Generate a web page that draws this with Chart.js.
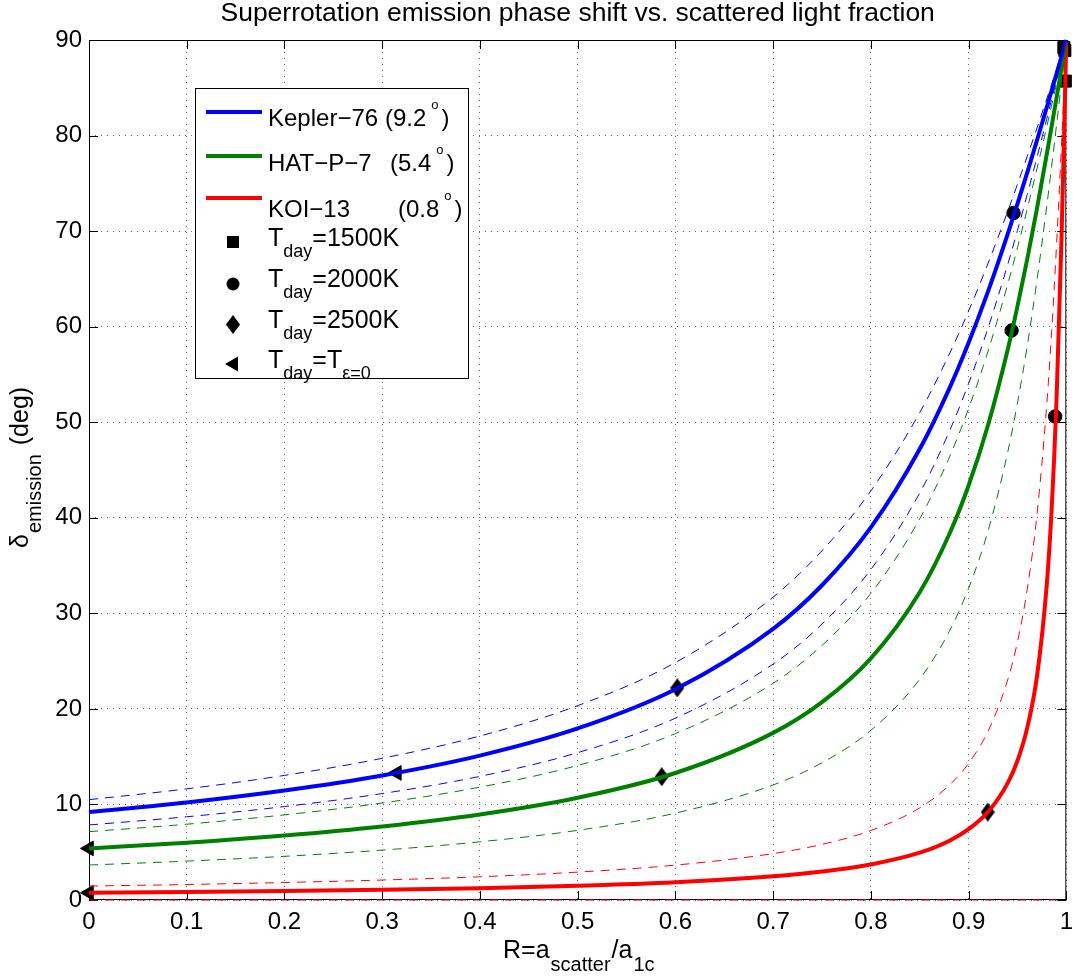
<!DOCTYPE html>
<html>
<head>
<meta charset="utf-8">
<script src="https://cdn.jsdelivr.net/npm/chart.js@4/dist/chart.umd.min.js"></script>
<style>
  html, body { margin: 0; padding: 0; background: #fff; }
  #wrap { width: 1081px; height: 979px; position: relative; }
</style>
</head>
<body>
<div id="wrap"><canvas id="chart"></canvas></div>
<script>
// R = a_scatter / a_1c
const R = [0, 0.1, 0.2, 0.3, 0.4, 0.5, 0.6, 0.7, 0.75, 0.8, 0.85, 0.88, 0.9, 0.92, 0.94, 0.95, 0.96, 0.97, 0.98, 0.985, 0.99, 0.995, 0.998, 1];

// emission phase shift (deg)
const kepler76   = [9.2, 10.2, 11.45, 13.03, 15.11, 17.95, 22.05, 28.37, 32.94, 39.0, 47.2, 53.47, 58.32, 63.72, 69.69, 72.85, 76.13, 79.51, 82.96, 84.71, 86.47, 88.23, 89.29, 90];
const kepler76Hi = [10.5, 11.63, 13.04, 14.83, 17.16, 20.34, 24.85, 31.7, 36.55, 42.82, 51.01, 57.07, 61.64, 66.65, 72.06, 74.9, 77.82, 80.8, 83.84, 85.37, 86.91, 88.45, 89.38, 90];
const kepler76Lo = [7.85, 8.71, 9.78, 11.14, 12.94, 15.42, 19.03, 24.69, 28.88, 34.59, 42.59, 48.97, 54.05, 59.89, 66.49, 70.07, 73.83, 77.73, 81.75, 83.79, 85.85, 87.92, 89.17, 90];
const hatp7      = [5.4, 5.99, 6.74, 7.69, 8.95, 10.7, 13.29, 17.49, 20.71, 25.29, 32.21, 38.22, 43.38, 49.74, 57.59, 62.12, 67.06, 72.39, 78.05, 80.98, 83.96, 86.97, 88.79, 90];
const hatp7Hi    = [7.15, 7.93, 8.91, 10.15, 11.81, 14.08, 17.41, 22.68, 26.64, 32.09, 39.9, 46.26, 51.43, 57.46, 64.43, 68.26, 72.31, 76.55, 80.94, 83.18, 85.44, 87.72, 89.09, 90];
const hatp7Lo    = [3.66, 4.07, 4.57, 5.22, 6.09, 7.29, 9.09, 12.04, 14.36, 17.75, 23.11, 28.07, 32.62, 38.66, 46.85, 52.0, 57.99, 64.88, 72.65, 76.81, 81.12, 85.53, 88.21, 90];
const koi13      = [0.75, 0.83, 0.93, 1.06, 1.24, 1.49, 1.86, 2.48, 2.98, 3.72, 4.95, 6.18, 7.41, 9.23, 12.23, 14.57, 18.01, 23.43, 33.02, 40.91, 52.43, 68.96, 81.25, 90];
const koi13Hi    = [1.46, 1.62, 1.83, 2.09, 2.43, 2.92, 3.65, 4.86, 5.82, 7.27, 9.64, 11.99, 14.3, 17.68, 23.02, 27.01, 32.51, 40.35, 51.88, 59.52, 68.58, 78.9, 85.51, 90];
const koi13Lo    = [0, 0, 0, 0, 0, 0, 0, 0, 0, 0, 0, 0, 0, 0, 0, 0, 0, 0, 0, 0, 0, 0, 0, null];

// markers: [kepler-76, hat-p-7, koi-13]
const t1500R = [0.9975, 0.9985, 0.999];
const t1500D = [89.2, 88.9, 85.7];
const t2000R = [0.946, 0.944, 0.9885];
const t2000D = [71.9, 59.6, 50.6];
const t2500R = [0.602, 0.586, 0.9196];
const t2500D = [22.2, 12.9, 9.2];
const tEps0R = [0.315, 0, 0];
const tEps0D = [13.3, 5.4, 0.75];

const xTicks = [0, 0.1, 0.2, 0.3, 0.4, 0.5, 0.6, 0.7, 0.8, 0.9, 1];
const yTicks = [0, 10, 20, 30, 40, 50, 60, 70, 80, 90];

const FONT = '"Liberation Sans", Arial, Helvetica, sans-serif';
const BLUE = '#0000ff', GREEN = '#008000', RED = '#ff0000';

const pts = (xs, ys) => xs.map((x, i) => ({ x: x, y: ys[i] }));

function curve(vals, color, dashed) {
    return {
        type: 'line',
        data: pts(R, vals),
        borderColor: color,
        borderWidth: dashed ? 1 : 4,
        borderDash: dashed ? [9, 7] : [],
        pointRadius: 0,
        cubicInterpolationMode: 'monotone',
        fill: false,
        clip: 4,
    };
}

function markers(xs, ys, style, radius, rotation) {
    return {
        type: 'scatter',
        data: pts(xs, ys),
        pointStyle: style,
        pointRadius: radius,
        pointRotation: rotation || 0,
        backgroundColor: '#000',
        borderColor: '#000',
        borderWidth: 1,
        showLine: false,
        clip: false,
    };
}

// MATLAB style diamond is taller than wide
function diamondImage(w, h) {
    const c = document.createElement('canvas');
    c.width = w; c.height = h;
    const g = c.getContext('2d');
    g.fillStyle = '#000';
    g.beginPath();
    g.moveTo(w / 2, 0); g.lineTo(w, h / 2); g.lineTo(w / 2, h); g.lineTo(0, h / 2);
    g.closePath(); g.fill();
    return c;
}
const diamond = diamondImage(14, 19);

// text with sub/superscripts: parts = [[text, size, dy, gapAfter], ...]
function rich(ctx, x, y, parts) {
    for (const p of parts) {
        ctx.font = p[1] + 'px ' + FONT;
        ctx.fillText(p[0], x, y + (p[2] || 0));
        x += ctx.measureText(p[0]).width + (p[3] || 0);
    }
    return x;
}

const decorations = {
    id: 'decorations',
    beforeDatasetsDraw(chart) {
        const { ctx, chartArea: a, scales } = chart;
        ctx.save();
        ctx.strokeStyle = '#000';
        ctx.lineWidth = 1;
        ctx.strokeRect(a.left + 0.5, a.top + 0.5, a.right - a.left - 1, a.bottom - a.top - 1);
        // inward ticks on all four sides
        const tl = 9;
        ctx.beginPath();
        xTicks.forEach(v => {
            const px = Math.round(scales.x.getPixelForValue(v)) + 0.5;
            ctx.moveTo(px, a.bottom); ctx.lineTo(px, a.bottom - tl);
            ctx.moveTo(px, a.top); ctx.lineTo(px, a.top + tl);
        });
        yTicks.forEach(v => {
            const py = Math.round(scales.y.getPixelForValue(v)) + 0.5;
            ctx.moveTo(a.left, py); ctx.lineTo(a.left + tl, py);
            ctx.moveTo(a.right, py); ctx.lineTo(a.right - tl, py);
        });
        ctx.stroke();
        ctx.restore();
    },
    afterDatasetsDraw(chart) {
        const { ctx, chartArea: a } = chart;
        ctx.save();
        ctx.fillStyle = '#000';
        ctx.textBaseline = 'alphabetic';

        // title
        ctx.textAlign = 'center';
        ctx.font = '26.5px ' + FONT;
        ctx.fillText('Superrotation emission phase shift vs. scattered light fraction', (a.left + a.right) / 2, 21);
        ctx.textAlign = 'left';

        // x axis title
        rich(ctx, 503, 958, [['R=a', 25, 0, 1], ['scatter', 20, 13, 1], ['/a', 25, 0, 1], ['1c', 20, 13]]);

        // y axis title
        ctx.save();
        ctx.translate(28, 548);
        ctx.rotate(-Math.PI / 2);
        rich(ctx, 0, 0, [['\u03b4', 25, 0, 1], ['emission', 20, 13, 2], [' (deg)', 25]]);
        ctx.restore();

        // legend box
        const bx = 195, by = 88, bw = 273, bh = 290;
        ctx.fillStyle = '#fff';
        ctx.fillRect(bx, by, bw, bh);
        ctx.strokeStyle = '#000';
        ctx.lineWidth = 1;
        ctx.strokeRect(bx + 0.5, by + 0.5, bw, bh);
        ctx.fillStyle = '#000';

        const lines = [
            [BLUE, 'Kepler\u221276', '9.2', 112, 126, 385],
            [GREEN, 'HAT\u2212P\u22127', '5.4', 156, 171, 390],
            [RED, 'KOI\u221213', '0.8', 198, 217, 398],
        ];
        lines.forEach(([col, name, deg, ly, base, px]) => {
            ctx.strokeStyle = col;
            ctx.lineWidth = 4;
            ctx.beginPath(); ctx.moveTo(206, ly); ctx.lineTo(262, ly); ctx.stroke();
            rich(ctx, 268, base, [[name, 24]]);
            rich(ctx, px, base, [['(' + deg, 24, 0, 5], ['o', 13, -17, 3], [')', 24]]);
        });

        const mx = 233;
        const rows = [246, 287, 328, 368];
        // square
        ctx.fillRect(mx - 6, rows[0] - 10, 12, 12);
        // circle
        ctx.beginPath(); ctx.arc(mx, rows[1] - 3, 6.5, 0, Math.PI * 2); ctx.fill();
        // diamond
        ctx.drawImage(diamond, mx - 7, rows[2] - 13);
        // left triangle
        ctx.beginPath();
        ctx.moveTo(mx - 8, rows[3] - 4); ctx.lineTo(mx + 5, rows[3] - 11.5); ctx.lineTo(mx + 5, rows[3] + 3.5);
        ctx.closePath(); ctx.fill();

        rich(ctx, 268, rows[0], [['T', 25], ['day', 18, 11], ['=1500K', 25]]);
        rich(ctx, 268, rows[1], [['T', 25], ['day', 18, 11], ['=2000K', 25]]);
        rich(ctx, 268, rows[2], [['T', 25], ['day', 18, 11], ['=2500K', 25]]);
        rich(ctx, 268, rows[3], [['T', 25], ['day', 18, 11], ['=T', 25], ['\u03b5=0', 18, 11]]);

        ctx.restore();
    }
};

new Chart(document.getElementById('chart').getContext('2d'), {
    type: 'line',
    data: {
        datasets: [
            curve(kepler76Hi, BLUE, true),
            curve(kepler76Lo, BLUE, true),
            curve(hatp7Hi, GREEN, true),
            curve(hatp7Lo, GREEN, true),
            curve(koi13Hi, RED, true),
            curve(koi13Lo, RED, true),
            curve(kepler76, BLUE, false),
            curve(hatp7, GREEN, false),
            curve(koi13, RED, false),
            markers(t1500R, t1500D, 'rect', 8.5),
            markers(t2000R, t2000D, 'circle', 6.7),
            markers(t2500R, t2500D, diamond, 7),
            markers(tEps0R, tEps0D, 'triangle', 8.5, -90),
        ],
    },
    options: {
        responsive: true,
        maintainAspectRatio: false,
        animation: false,
        events: [],
        layout: { padding: { left: 0, right: 8, top: 40, bottom: 0 } },
        plugins: {
            legend: { display: false },
            title: { display: false },
            tooltip: { enabled: false },
        },
        scales: {
            x: {
                type: 'linear',
                min: 0,
                max: 1,
                afterFit: (s) => { s.height = 79; },
                afterBuildTicks: (s) => { s.ticks = xTicks.map(v => ({ value: v })); },
                ticks: {
                    color: '#000',
                    font: { size: 24, family: FONT },
                    padding: 8,
                    maxRotation: 0,
                    callback: (v) => String(v),
                },
                grid: { color: 'rgba(0,0,0,0.6)', lineWidth: 1, drawTicks: false },
                border: { display: false, dash: [1, 5] },
            },
            y: {
                type: 'linear',
                min: 0,
                max: 90,
                afterFit: (s) => { s.width = 89; },
                afterBuildTicks: (s) => { s.ticks = yTicks.map(v => ({ value: v })); },
                ticks: {
                    color: '#000',
                    font: { size: 24, family: FONT },
                    padding: 7,
                    callback: (v) => String(v),
                },
                grid: { color: 'rgba(0,0,0,0.6)', lineWidth: 1, drawTicks: false },
                border: { display: false, dash: [1, 5] },
            },
        },
    },
    plugins: [decorations],
});
</script>
</body>
</html>
